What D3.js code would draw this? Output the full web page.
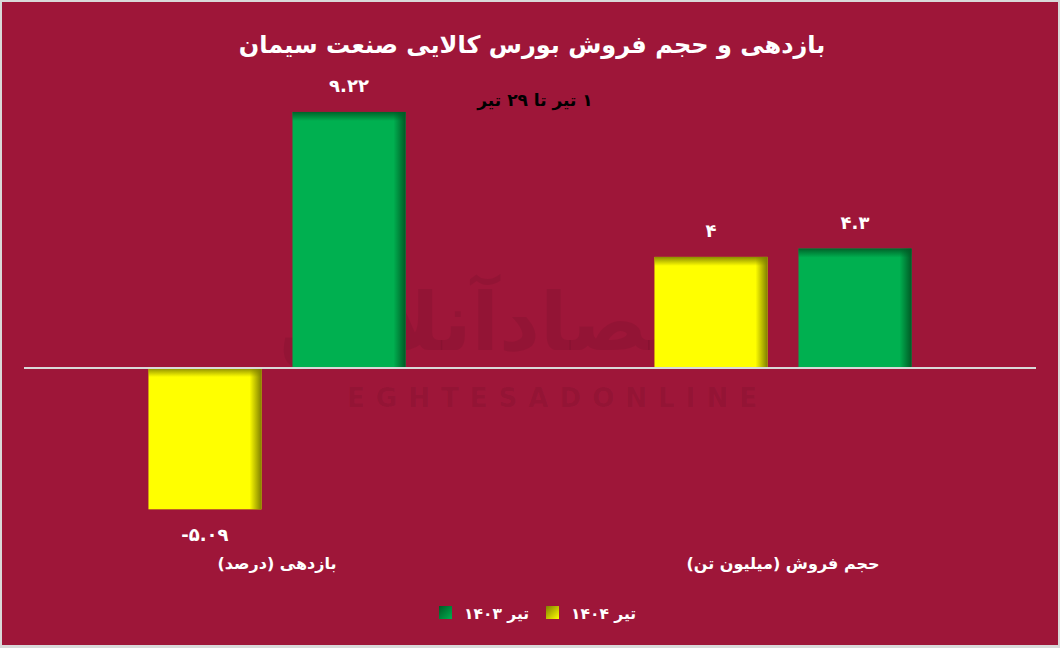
<!DOCTYPE html>
<html><head><meta charset="utf-8">
<script src="https://cdn.jsdelivr.net/npm/d3@7/dist/d3.min.js"></script>
<style>html,body{margin:0;padding:0;background:#d9d9d9;}svg{display:block;}</style>
</head><body>
<svg id="chart" width="1060" height="648"></svg>
<script>
const categories = ["بازدهی (درصد)", "حجم فروش (میلیون تن)"];
const seriesNames = ["تیر ۱۴۰۴", "تیر ۱۴۰۳"];
const values1404 = [-5.09, 4];
const values1403 = [9.22, 4.3];
const seriesColors = ["#ffff00", "#00b050"];
const seriesDark = ["#7f7f00", "#005a25"];
const title = "بازدهی و حجم فروش بورس کالایی صنعت سیمان";
const subtitle = "۱ تیر تا ۲۹ تیر";
const legendOrder = [1, 0];

const W = 1060, H = 648;
const font = "'DejaVu Sans', sans-serif";
const fa = s => String(s).replace(/\d/g, d => "۰۱۲۳۴۵۶۷۸۹"[+d]);

const svg = d3.select("#chart");
svg.append("rect").attr("x", 0).attr("y", 0).attr("width", W).attr("height", H).attr("fill", "#d9d9d9");
svg.append("rect").attr("x", 2).attr("y", 2).attr("width", W - 4).attr("height", H - 5).attr("fill", "#9e1639");

const defs = svg.append("defs");

// watermark
svg.append("text").attr("x", 520).attr("y", 350).attr("text-anchor", "middle")
  .attr("font-family", font).attr("font-weight", "bold").attr("font-size", 80)
  .attr("fill", "#000").attr("fill-opacity", 0.065).text("اقتصادآنلاین");
svg.append("text").attr("x", 347).attr("y", 407).attr("textLength", 410)
  .attr("lengthAdjust", "spacing")
  .attr("font-family", "'DejaVu Sans', sans-serif").attr("font-weight", "bold").attr("font-size", 26)
  .attr("fill", "#000").attr("fill-opacity", 0.07).text("EGHTESADONLINE");

const x0 = d3.scaleBand().domain(categories).range([24, 1036]);
const x1 = d3.scaleBand().domain([0, 1]).range([0, x0.bandwidth()]).paddingInner(0.215).paddingOuter(0.864);
const y = d3.scaleLinear().domain([-6, 10]).range([534.6, 90.3]);

const rows = [];
categories.forEach((c, i) => {
  rows.push({cat: c, s: 0, v: values1404[i]});
  rows.push({cat: c, s: 1, v: values1403[i]});
});

rows.forEach((d, i) => {
  const bx = x0(d.cat) + x1(d.s), bw = x1.bandwidth();
  const top = y(Math.max(0, d.v)), bot = y(Math.min(0, d.v));
  const gR = defs.append("linearGradient").attr("id", "gr" + i)
    .attr("gradientUnits", "userSpaceOnUse")
    .attr("x1", bx + bw - 12).attr("x2", bx + bw).attr("y1", 0).attr("y2", 0);
  gR.append("stop").attr("offset", 0).attr("stop-color", seriesDark[d.s]).attr("stop-opacity", 0);
  gR.append("stop").attr("offset", 1).attr("stop-color", seriesDark[d.s]).attr("stop-opacity", 1);
  const gT = defs.append("linearGradient").attr("id", "gt" + i)
    .attr("gradientUnits", "userSpaceOnUse")
    .attr("x1", 0).attr("x2", 0).attr("y1", top).attr("y2", top + 9);
  gT.append("stop").attr("offset", 0).attr("stop-color", seriesDark[d.s]).attr("stop-opacity", 0.9);
  gT.append("stop").attr("offset", 1).attr("stop-color", seriesDark[d.s]).attr("stop-opacity", 0);
  d.bx = bx; d.bw = bw; d.top = top; d.bot = bot; d.i = i;
});

const bars = svg.append("g").selectAll("g").data(rows).join("g");
bars.append("rect").attr("x", d => d.bx).attr("y", d => d.top)
  .attr("width", d => d.bw).attr("height", d => d.bot - d.top).attr("fill", d => seriesColors[d.s]);
bars.append("rect").attr("x", d => d.bx).attr("y", d => d.top)
  .attr("width", d => d.bw).attr("height", d => d.bot - d.top).attr("fill", d => `url(#gt${d.i})`);
bars.append("rect").attr("x", d => d.bx).attr("y", d => d.top)
  .attr("width", d => d.bw).attr("height", d => d.bot - d.top).attr("fill", d => `url(#gr${d.i})`);

// zero line
svg.append("line").attr("x1", 24).attr("x2", 1036).attr("y1", y(0)).attr("y2", y(0))
  .attr("stroke", "#d9d9d9").attr("stroke-width", 2);

// value labels
svg.append("g").selectAll("text").data(rows).join("text")
  .attr("x", d => d.bx + d.bw / 2)
  .attr("y", d => d.v >= 0 ? y(d.v) - 20 : y(d.v) + 32)
  .attr("text-anchor", "middle").attr("font-family", font).attr("font-weight", "bold")
  .attr("font-size", 18).attr("fill", "#fff").attr("direction", "ltr")
  .text(d => fa(d.v));

// category labels
svg.append("g").selectAll("text").data(categories).join("text")
  .attr("x", d => x0(d) + x0.bandwidth() / 2).attr("y", 569)
  .attr("text-anchor", "middle").style("direction", "rtl").style("unicode-bidi", "embed")
  .attr("font-family", font).attr("font-weight", "bold").attr("font-size", 16).attr("fill", "#fff")
  .text(d => d);

// title
svg.append("text").attr("x", 532).attr("y", 53).attr("text-anchor", "middle")
  .style("direction", "rtl").style("unicode-bidi", "embed")
  .attr("font-family", font).attr("font-weight", "bold").attr("font-size", 24).attr("fill", "#fff").text(title);
svg.append("text").attr("x", 535).attr("y", 106).attr("text-anchor", "middle")
  .style("direction", "rtl").style("unicode-bidi", "embed")
  .attr("font-family", font).attr("font-weight", "bold").attr("font-size", 17).attr("fill", "#000").text(subtitle);

// legend
const legX = [439, 546];
legendOrder.forEach((s, k) => {
  const lg = defs.append("linearGradient").attr("id", "lg" + s).attr("x1", 0).attr("y1", 0).attr("x2", 1).attr("y2", 1);
  lg.append("stop").attr("offset", 0).attr("stop-color", seriesDark[s]);
  lg.append("stop").attr("offset", 1).attr("stop-color", seriesColors[s]);
  svg.append("rect").attr("x", legX[k]).attr("y", 606).attr("width", 13).attr("height", 13).attr("fill", `url(#lg${s})`);
  svg.append("text").attr("x", legX[k] + 25).attr("y", 619)
    .attr("font-family", font).attr("font-weight", "bold").attr("font-size", 15.5).attr("fill", "#fff")
    .text(seriesNames[s]);
});
</script>
</body></html>
